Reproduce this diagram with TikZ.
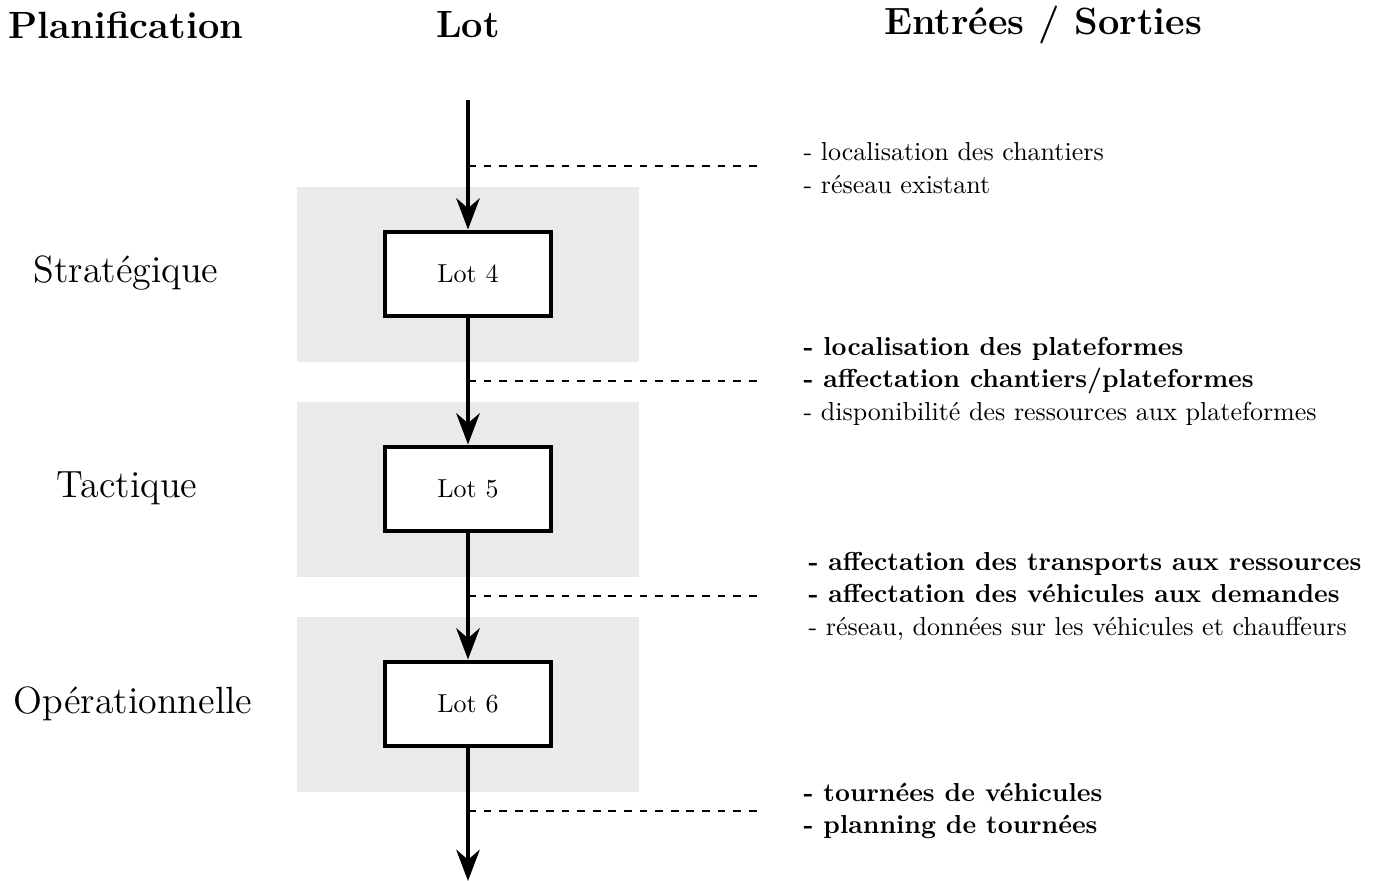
\documentclass[tikz,border=0pt]{standalone}
\usepackage{fontspec}
\usetikzlibrary{arrows.meta}
\definecolor{bgGray}{RGB}{234,234,234}
\begin{document}
\begin{tikzpicture}[x=0.3846pt,y=-0.3846pt,
  lotbox/.style={draw,line width=1.7pt,fill=white,minimum width=64pt,minimum height=32.5pt,inner sep=0pt,font=\fontsize{10}{12}\selectfont},
  band/.style={fill=bgGray,draw=none},
  flow/.style={line width=1.7pt,-{Stealth[length=12pt,width=9pt,inset=3.8pt]}},
  sep/.style={dashed,line width=0.45pt},
  io/.style={anchor=west,align=left,inner sep=0pt,font=\fontsize{10}{12.5}\selectfont},
  level/.style={font=\fontsize{14.6}{17}\selectfont},
  head/.style={font=\fontsize{14.6}{17}\selectfont\bfseries}]
\useasboundingbox (0,0) rectangle (1379,881);
% bands
\fill[band] (297,187) rectangle (639,362);
\fill[band] (297,402) rectangle (639,577);
\fill[band] (297,617) rectangle (639,792);
% headers
\node[head] (hplan) at (126,25) {Planification};
\node[head] (hlot) at (468,25) {Lot};
\node[head] (hio) at (1043,25) {Entrées / Sorties};
% levels
\node[level] (strat) at (126,273) {Stratégique};
\node[level] (tact) at (127,488) {Tactique};
\node[level] (oper) at (133,704) {Opérationnelle};
% boxes
\node[lotbox] (lot4) at (468,274) {Lot 4};
\node[lotbox] (lot5) at (468,489) {Lot 5};
\node[lotbox] (lot6) at (468,704) {Lot 6};
% flow
\coordinate (start) at (468,100);
\coordinate (end) at (468,881);
\draw[flow] (start) -- (lot4.north);
\draw[flow] (lot4.south) -- (lot5.north);
\draw[flow] (lot5.south) -- (lot6.north);
\draw[flow] (lot6.south) -- (end);
% dashed separators
\coordinate (d1a) at (468,166); \coordinate (d1b) at (760,166);
\coordinate (d2a) at (468,381); \coordinate (d2b) at (760,381);
\coordinate (d3a) at (468,596); \coordinate (d3b) at (760,596);
\coordinate (d4a) at (468,811); \coordinate (d4b) at (760,811);
\draw[sep] (d1a) -- (d1b);
\draw[sep] (d2a) -- (d2b);
\draw[sep] (d3a) -- (d3b);
\draw[sep] (d4a) -- (d4b);
% inputs / outputs
\node[io] (io1) at (803,168) {- localisation des chantiers\\- réseau existant};
\node[io] (io2) at (803,381) {\textbf{- localisation des plateformes}\\\textbf{- affectation chantiers/plateformes}\\- disponibilité des ressources aux plateformes};
\node[io] (io3) at (808,596) {\textbf{- affectation des transports aux ressources}\\\textbf{- affectation des véhicules aux demandes}\\- réseau, données sur les véhicules et chauffeurs};
\node[io] (io4) at (803,811) {\textbf{- tournées de véhicules}\\\textbf{- planning de tournées}};
\end{tikzpicture}
\end{document}
